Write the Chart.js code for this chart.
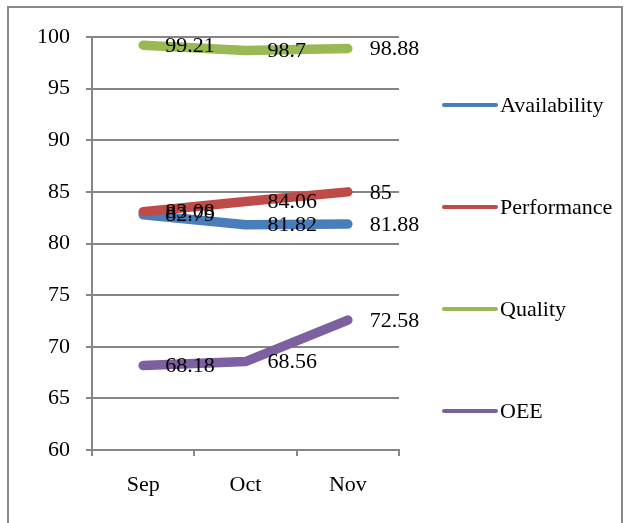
<!DOCTYPE html>
<html>
<head>
<meta charset="utf-8">
<script src="https://cdn.jsdelivr.net/npm/chart.js@4"></script>
<style>
  body { margin: 0; background: #fff; }
  #frame { position: absolute; left: 7px; top: 6px; width: 612px; height: 530px; border: 2px solid #898989; }
  #wrap { position: absolute; left: 0; top: 0; width: 626px; height: 523px; }
</style>
</head>
<body>
<div id="frame"></div>
<div id="wrap"><canvas id="oeeChart" width="626" height="523"></canvas></div>
<script>
const months = ['Sep', 'Oct', 'Nov'];
const availability = [82.79, 81.82, 81.88];
const performance = [83.08, 84.06, 85];
const quality = [99.21, 98.7, 98.88];
const oee = [68.18, 68.56, 72.58];
const seriesNames = ['Availability', 'Performance', 'Quality', 'OEE'];
const seriesColors = ['#4A7EBB', '#BE4B48', '#98B954', '#7D60A0'];

const FONT = { family: "'Liberation Serif', 'Times New Roman', serif", size: 22 };

// value labels to the right of each point
const valueLabels = {
    id: 'valueLabels',
    afterDatasetsDraw(chart) {
        const ctx = chart.ctx;
        ctx.save();
        ctx.font = FONT.size + 'px ' + FONT.family;
        ctx.fillStyle = '#000';
        ctx.textAlign = 'left';
        ctx.textBaseline = 'middle';
        chart.data.datasets.forEach(function (ds, i) {
            chart.getDatasetMeta(i).data.forEach(function (pt, j) {
                ctx.fillText(String(ds.data[j]), pt.x + 22, pt.y + 1);
            });
        });
        ctx.restore();
    }
};

// Excel-style legend spread down the right side
const sideLegend = {
    id: 'sideLegend',
    afterDraw(chart) {
        const ctx = chart.ctx;
        ctx.save();
        ctx.font = FONT.size + 'px ' + FONT.family;
        ctx.textBaseline = 'middle';
        chart.data.datasets.forEach(function (ds, i) {
            const y = 105 + i * 102;
            ctx.strokeStyle = ds.borderColor;
            ctx.lineWidth = 4;
            ctx.lineCap = 'round';
            ctx.beginPath();
            ctx.moveTo(444, y);
            ctx.lineTo(496, y);
            ctx.stroke();
            ctx.fillStyle = '#000';
            ctx.fillText(ds.label, 500, y + 1);
        });
        ctx.restore();
    }
};

document.addEventListener("DOMContentLoaded", function () {
    const values = [availability, performance, quality, oee];
    new Chart(document.getElementById('oeeChart').getContext('2d'), {
        type: 'line',
        data: {
            labels: months,
            datasets: values.map(function (v, i) {
                return {
                    label: seriesNames[i], data: v, borderColor: seriesColors[i],
                    backgroundColor: seriesColors[i], borderWidth: 9.5, tension: 0,
                    pointRadius: 0, borderCapStyle: 'round', borderJoinStyle: 'round',
                    order: 3 - i
                };
            })
        },
        options: {
            responsive: false, animation: false,
            layout: { padding: { left: 0, top: 37, right: 227, bottom: 23 } },
            plugins: { legend: { display: false }, tooltip: { enabled: false } },
            scales: {
                x: {
                    offset: true,
                    afterFit: function (s) { s.height = 50; },
                    grid: { drawOnChartArea: false, drawTicks: true, offset: true, tickLength: 6, color: '#868686', lineWidth: 2 },
                    border: { color: '#868686', width: 2 },
                    ticks: { color: '#000', font: FONT, padding: 16, maxRotation: 0 }
                },
                y: {
                    min: 60, max: 100,
                    afterFit: function (s) { s.width = 92; },
                    grid: { color: '#868686', lineWidth: 2, tickLength: 6 },
                    border: { color: '#868686', width: 2 },
                    ticks: { stepSize: 5, color: '#000', font: FONT, padding: 16 }
                }
            }
        },
        plugins: [valueLabels, sideLegend]
    });
});
</script>
</body>
</html>
